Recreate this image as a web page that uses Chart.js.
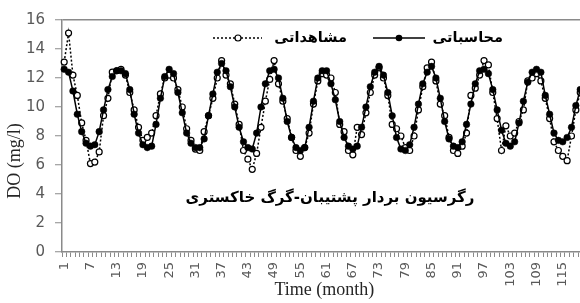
<!DOCTYPE html>
<html lang="fa">
<head>
    <meta charset="UTF-8">
    <title>DO (mg/l)</title>
    <script src="https://cdn.jsdelivr.net/npm/chart.js@4.4.0/dist/chart.umd.min.js"></script>
    <style>
        html, body {
            margin: 0;
            padding: 0;
            background: #ffffff;
            overflow: hidden;
        }
        .chart-box {
            position: relative;
            width: 592px;
            height: 303px;
        }
    </style>
</head>
<body>
    <div class="chart-box">
        <canvas id="doChart"></canvas>
    </div>

    <script>
        // months 1..120
        const months = Array.from({ length: 120 }, (_, i) => i + 1);
        const labelStep = 6;

        const yTicks = { min: 0, max: 16, step: 2 };

        const computedLabel = 'محاسباتی';
        const observedLabel = 'مشاهداتی';
        const noteText = 'رگرسیون بردار پشتیبان-گرگ خاکستری';

        // محاسباتی (model output)
        const computedDO = [
            12.6, 12.4, 11.1, 9.5, 8.3, 7.5, 7.3, 7.4, 8.3, 9.8, 11.2, 12.1,
            12.5, 12.5, 12.3, 11.2, 9.5, 8.2, 7.4, 7.2, 7.3, 8.8, 10.6, 12.1,
            12.6, 12.3, 11.0, 9.6, 8.2, 7.5, 7.2, 7.2, 7.8, 9.4, 10.9, 12.4,
            13.0, 12.5, 11.4, 10.0, 8.6, 7.6, 7.2, 7.1, 8.2, 10.0, 11.6, 12.5,
            12.6, 12.0, 10.6, 9.0, 7.9, 7.2, 7.0, 7.2, 8.6, 10.4, 12.0, 12.5,
            12.5, 11.6, 10.5, 9.0, 7.9, 7.3, 7.1, 7.3, 8.6, 10.0, 11.4, 12.4,
            12.8, 12.2, 11.0, 9.4, 7.9, 7.1, 7.0, 7.4, 8.6, 10.2, 11.6, 12.4,
            12.8, 12.0, 10.6, 9.0, 7.8, 7.3, 7.2, 7.6, 8.8, 10.2, 11.6, 12.5,
            12.6, 12.3, 11.2, 9.8, 8.4, 7.5, 7.3, 7.6, 8.9, 10.4, 11.7, 12.4,
            12.6, 12.4, 10.8, 9.5, 8.2, 7.7, 7.6, 7.9, 8.6, 10.1, 11.2, 12.2
        ];

        // مشاهداتی (measured)
        const observedDO = [
            13.1, 15.1, 12.2, 10.8, 8.9, 7.7, 6.1, 6.2, 6.9, 9.4, 10.6, 12.4,
            12.5, 12.6, 12.2, 11.0, 9.8, 8.6, 7.7, 7.9, 8.2, 9.4, 10.9, 12.0,
            12.2, 12.0, 11.2, 10.0, 8.5, 7.7, 7.1, 7.0, 8.3, 9.4, 10.6, 12.0,
            13.2, 12.2, 11.6, 10.2, 8.8, 7.0, 6.4, 5.7, 6.8, 8.6, 10.4, 11.9,
            13.2, 11.6, 10.4, 9.2, 7.9, 7.0, 6.6, 7.2, 8.2, 10.2, 11.8, 12.3,
            12.2, 12.0, 11.0, 8.8, 8.3, 7.0, 6.7, 8.6, 8.1, 9.6, 11.0, 12.2,
            12.7, 12.0, 10.8, 8.8, 8.5, 8.0, 7.2, 7.0, 8.0, 9.8, 11.4, 12.7,
            13.1, 11.8, 10.2, 9.4, 7.9, 7.0, 6.8, 7.3, 8.2, 10.8, 11.3, 12.2,
            13.2, 12.9, 11.0, 9.2, 7.0, 8.7, 8.0, 8.2, 9.0, 9.8, 11.8, 12.0,
            12.3, 11.8, 10.6, 9.2, 7.6, 7.0, 6.6, 6.3, 8.0, 9.8, 11.0, 12.0
        ];

        const axisGray = '#8a8a8a';
        const tickText = '#595959';

        // legend, y title and the caption drawn on top of the plot
        const overlayText = {
            id: 'overlayText',
            afterDraw(chart) {
                const ctx = chart.ctx;
                ctx.save();

                // y axis title
                ctx.fillStyle = '#262626';
                ctx.font = '18px "Liberation Serif", serif';
                ctx.textAlign = 'center';
                ctx.textBaseline = 'middle';
                ctx.translate(15, 161);
                ctx.rotate(-Math.PI / 2);
                ctx.fillText('DO (mg/l)', 0, 0);
                ctx.setTransform(1, 0, 0, 1, 0, 0);

                // legend: computed
                const ly = 38;
                ctx.strokeStyle = '#000';
                ctx.lineWidth = 1.5;
                ctx.setLineDash([]);
                ctx.beginPath();
                ctx.moveTo(373, ly);
                ctx.lineTo(425, ly);
                ctx.stroke();
                ctx.fillStyle = '#000';
                ctx.beginPath();
                ctx.arc(399, ly, 3.3, 0, Math.PI * 2);
                ctx.fill();

                // legend: observed
                ctx.setLineDash([2, 2]);
                ctx.beginPath();
                ctx.moveTo(213, ly);
                ctx.lineTo(262, ly);
                ctx.stroke();
                ctx.setLineDash([]);
                ctx.fillStyle = '#fff';
                ctx.lineWidth = 1.2;
                ctx.beginPath();
                ctx.arc(238, ly, 3, 0, Math.PI * 2);
                ctx.fill();
                ctx.stroke();

                ctx.fillStyle = '#000';
                ctx.font = 'bold 14.5px "DejaVu Sans", sans-serif';
                ctx.textAlign = 'right';
                ctx.textBaseline = 'middle';
                ctx.direction = 'rtl';
                ctx.fillText(computedLabel, 503, ly);
                ctx.fillText(observedLabel, 347, ly);

                // caption inside the plot
                ctx.font = 'bold 15px "DejaVu Sans", sans-serif';
                ctx.textAlign = 'center';
                ctx.fillText(noteText, 330, 198);

                ctx.restore();
            }
        };

        const ctx = document.getElementById('doChart').getContext('2d');
        const chart = new Chart(ctx, {
            type: 'line',
            data: {
                labels: months,
                datasets: [
                    {
                        label: computedLabel,
                        data: computedDO,
                        borderColor: '#000',
                        borderWidth: 1.5,
                        pointRadius: 3.3,
                        pointBackgroundColor: '#000',
                        pointBorderColor: '#000',
                        pointBorderWidth: 0.5,
                        tension: 0
                    },
                    {
                        label: observedLabel,
                        data: observedDO,
                        borderColor: '#000',
                        borderWidth: 1.5,
                        borderDash: [2, 2],
                        pointRadius: 3,
                        pointBackgroundColor: '#fff',
                        pointBorderColor: '#000',
                        pointBorderWidth: 1.2,
                        tension: 0
                    }
                ]
            },
            options: {
                responsive: true,
                maintainAspectRatio: false,
                animation: false,
                layout: { padding: { top: 20, right: 0, left: 0, bottom: 0 } },
                plugins: {
                    legend: { display: false },
                    tooltip: { enabled: false }
                },
                scales: {
                    x: {
                        type: 'category',
                        offset: true,
                        afterFit: s => {
                            s.height = 51;
                            s.paddingLeft = 0;
                            s.paddingRight = 0;
                        },
                        border: { color: axisGray, width: 1.5 },
                        grid: {
                            offset: true,
                            drawOnChartArea: false,
                            tickLength: 5,
                            tickColor: axisGray,
                            tickWidth: 1
                        },
                        ticks: {
                            autoSkip: false,
                            minRotation: 90,
                            maxRotation: 90,
                            padding: 5,
                            color: tickText,
                            font: { family: 'DejaVu Sans', size: 13 },
                            callback: (v, i) => (i % labelStep === 0 ? months[i] : '')
                        },
                        title: {
                            display: true,
                            text: 'Time (month)',
                            color: '#262626',
                            font: { family: 'Liberation Serif', size: 18 },
                            padding: { top: 0, bottom: 2 }
                        }
                    },
                    y: {
                        min: yTicks.min,
                        max: yTicks.max,
                        afterFit: s => {
                            s.width = 62;
                            s.paddingTop = 0;
                            s.paddingBottom = 0;
                        },
                        border: { color: axisGray, width: 1.5 },
                        grid: {
                            color: c => (c.tick && c.tick.value === yTicks.max ? axisGray : 'rgba(0,0,0,0)'),
                            lineWidth: 1.5,
                            tickLength: 7,
                            tickColor: axisGray,
                            tickWidth: 1
                        },
                        ticks: {
                            stepSize: yTicks.step,
                            padding: 10,
                            color: tickText,
                            font: { family: 'DejaVu Sans', size: 15 }
                        }
                    }
                }
            },
            plugins: [overlayText]
        });
    </script>
</body>
</html>
